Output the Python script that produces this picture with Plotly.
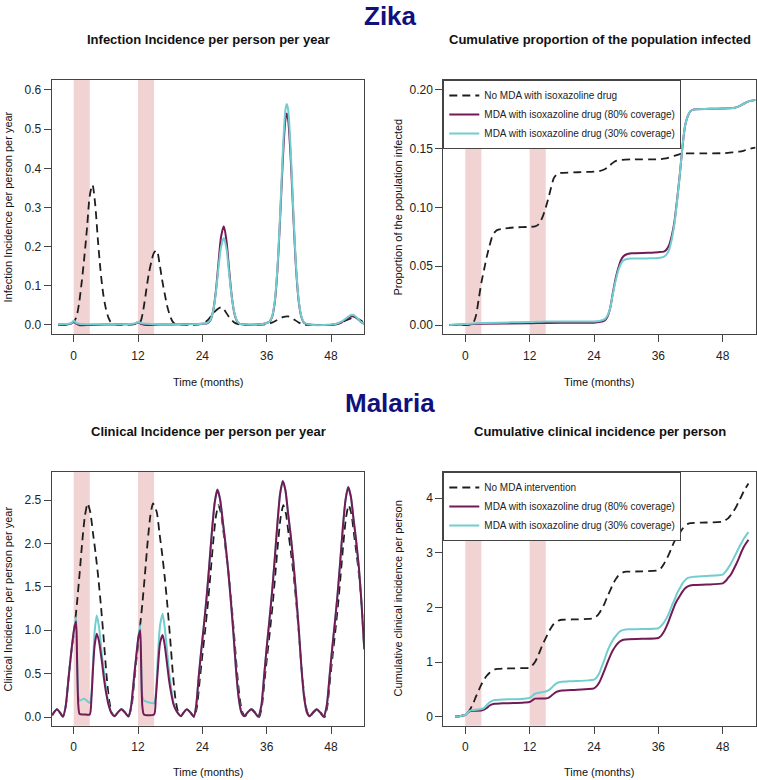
import plotly.graph_objects as go

FONT = "Liberation Sans, Arial, sans-serif"

# ---------------- data ----------------
months_ticks = [0, 12, 24, 36, 48]
mda_periods = [(0, 3), (12, 15)]

series_names_zika = ["No MDA with isoxazoline drug",
                     "MDA with isoxazoline drug (80% coverage)",
                     "MDA with isoxazoline drug (30% coverage)"]
series_names_mal = ["No MDA intervention",
                    "MDA with isoxazoline drug (80% coverage)",
                    "MDA with isoxazoline drug (30% coverage)"]

# Zika: infection incidence per person per year
zika_inc_t_nomda = [-2.9, -1, 0, 0.5, 1, 1.5, 2, 2.5, 3, 3.5, 4, 4.5, 5, 5.5, 6, 6.5, 7, 8, 10, 11.5,
                    12, 12.5, 13, 13.5, 14, 14.5, 15, 15.5, 16, 16.5, 17, 17.5, 18, 18.5, 19, 20, 22, 24, 25, 26,
                    27, 27.5, 28, 29, 30, 31, 32, 34, 36, 37, 38, 39, 40, 41, 42, 43, 44, 46, 48, 49,
                    50, 51, 52, 52.5, 53, 54.2]
zika_inc_nomda = [0.0, 0.001, 0.008, 0.02, 0.055, 0.11, 0.175, 0.25, 0.33, 0.358, 0.31, 0.22, 0.14, 0.08, 0.042, 0.018, 0.006, 0.001, 0.001, 0.002,
                  0.004, 0.01, 0.04, 0.085, 0.13, 0.162, 0.185, 0.19, 0.158, 0.115, 0.078, 0.045, 0.022, 0.008, 0.002, 0.001, 0.0, 0.003, 0.012, 0.03,
                  0.042, 0.045, 0.04, 0.02, 0.006, 0.001, 0.0, 0.0, 0.002, 0.006, 0.013, 0.02, 0.022, 0.015, 0.006, 0.001, 0.0, 0.0, 0.001, 0.003,
                  0.007, 0.013, 0.018, 0.019, 0.016, 0.006]
zika_inc_t_mda = [-2.9, -1, -0.4, 0, 0.4, 1, 3, 6, 9, 11, 11.6, 12, 12.5, 13.5, 16, 20, 24, 25, 25.5, 26,
                  26.5, 27, 27.5, 28, 28.5, 29, 29.5, 30, 30.5, 31, 32, 34, 35.5, 36.5, 37, 37.5, 38, 38.5, 39, 39.5,
                  39.75, 40, 40.5, 41, 41.5, 42, 42.5, 43, 44, 48, 49, 50, 51, 51.9, 52.5, 53, 53.5, 54.2]
zika_inc_80 = [0.001, 0.002, 0.004, 0.009, 0.004, 0.0, 0.0, 0.001, 0.002, 0.002, 0.004, 0.007, 0.003, 0.0, 0.001, 0.002, 0.003, 0.005, 0.012, 0.035,
               0.084, 0.157, 0.226, 0.252, 0.215, 0.14, 0.072, 0.028, 0.009, 0.003, 0.001, 0.001, 0.003, 0.008, 0.02, 0.057, 0.139, 0.27, 0.42, 0.525,
               0.54, 0.525, 0.42, 0.27, 0.139, 0.057, 0.019, 0.005, 0.001, 0.0, 0.002, 0.007, 0.016, 0.022, 0.02, 0.015, 0.009, 0.003]
zika_inc_30 = [0.001, 0.003, 0.005, 0.011, 0.006, 0.003, 0.002, 0.002, 0.002, 0.003, 0.005, 0.008, 0.005, 0.003, 0.002, 0.002, 0.003, 0.006, 0.013, 0.035,
               0.08, 0.145, 0.2, 0.222, 0.195, 0.13, 0.07, 0.03, 0.01, 0.003, 0.001, 0.001, 0.003, 0.008, 0.021, 0.06, 0.145, 0.28, 0.44, 0.55,
               0.564, 0.55, 0.44, 0.28, 0.145, 0.06, 0.02, 0.006, 0.001, 0.001, 0.003, 0.009, 0.019, 0.026, 0.023, 0.016, 0.009, 0.003]

# Zika: cumulative proportion of the population infected
zika_cum_t_nomda = [-3, 0, 1, 1.5, 2, 2.5, 3, 3.5, 4, 4.5, 5, 5.5, 6, 7, 9, 12, 13, 13.5, 14, 14.5,
                    15, 15.5, 16, 16.5, 17, 17.5, 18, 21, 24, 25, 26, 26.5, 27, 27.5, 28, 29, 31, 36, 37, 38,
                    39, 40, 41, 44, 48, 49, 50, 51, 52, 53, 54.1]
zika_cum_nomda = [0.0, 0.0, 0.0005, 0.002, 0.008, 0.022, 0.036, 0.047, 0.058, 0.067, 0.075, 0.079, 0.081, 0.082, 0.083, 0.0835, 0.084, 0.085, 0.088, 0.093,
                  0.1, 0.108, 0.117, 0.125, 0.128, 0.129, 0.1295, 0.13, 0.1305, 0.131, 0.1325, 0.134, 0.136, 0.138, 0.1395, 0.1405, 0.141, 0.141, 0.1415, 0.1425,
                  0.144, 0.1455, 0.146, 0.146, 0.1462, 0.1465, 0.147, 0.1475, 0.1485, 0.15, 0.151]
zika_cum_t_mda = [-3, 0, 3, 12, 15, 24, 25, 26, 26.5, 27, 27.5, 28, 28.5, 29, 29.5, 30, 31, 34, 36, 37,
                  37.5, 38, 38.5, 39, 39.5, 40, 40.5, 41, 41.5, 42, 42.5, 43, 46, 48, 49, 50, 51, 52, 53, 54.1]
zika_cum_80 = [0.0, 0.0005, 0.001, 0.0015, 0.0018, 0.002, 0.0025, 0.004, 0.007, 0.014, 0.027, 0.039, 0.048, 0.055, 0.0585, 0.06, 0.061, 0.0615, 0.062, 0.0625,
               0.064, 0.068, 0.076, 0.088, 0.107, 0.128, 0.152, 0.17, 0.178, 0.182, 0.1833, 0.1836, 0.184, 0.1842, 0.1844, 0.1846, 0.186, 0.1885, 0.1905, 0.1915]
zika_cum_30 = [0.0, 0.0008, 0.0018, 0.0025, 0.003, 0.003, 0.0035, 0.005, 0.008, 0.014, 0.026, 0.037, 0.046, 0.052, 0.055, 0.056, 0.0565, 0.0567, 0.057, 0.058,
               0.06, 0.064, 0.073, 0.086, 0.106, 0.128, 0.152, 0.17, 0.178, 0.182, 0.1833, 0.1836, 0.184, 0.1842, 0.1844, 0.1846, 0.186, 0.1885, 0.1905, 0.1915]

# Malaria: clinical incidence per person per year
mal_inc_t_nomda = [-4.0, -3.6, -3.1, -2.6, -2.0, -1.5, -1.0, -0.5, 0.1, 0.6, 1.1, 1.6, 2.1, 2.6, 3.1, 3.6, 4.1, 4.6, 5.1, 5.6,
                   6.1, 6.6, 7.1, 7.6, 8.2, 8.9, 9.6, 10.2, 10.8, 11.3, 11.8, 12.3, 12.8, 13.3, 13.8, 14.3, 14.8, 15.5, 16.0, 16.5,
                   17.0, 17.5, 18.0, 18.5, 19.0, 19.5, 20.0, 20.5, 21.1, 21.8, 22.5, 23.0, 23.5, 24.0, 24.5, 25.0, 25.5, 26.0, 26.5, 27.0,
                   27.5, 28.0, 28.5, 29.0, 29.5, 30.0, 30.5, 31.0, 31.5, 32.0, 32.5, 33.2, 33.9, 34.6, 35.1, 35.6, 36.1, 36.6, 37.1, 37.6,
                   38.1, 38.6, 39.1, 39.6, 40.1, 40.6, 41.1, 41.6, 42.1, 42.6, 43.1, 43.6, 44.1, 44.7, 45.4, 46.1, 46.8, 47.3, 47.8, 48.3,
                   48.8, 49.3, 49.8, 50.3, 50.8, 51.3, 51.8, 52.3, 52.8, 53.3, 53.8, 54.2]
mal_inc_nomda = [0.02, 0.06, 0.09, 0.055, 0.005, 0.12, 0.42, 0.72, 1.0, 1.3, 1.65, 2.02, 2.32, 2.46, 2.36, 2.12, 1.88, 1.6, 1.27, 0.9,
                 0.5, 0.2, 0.05, 0.01, 0.05, 0.09, 0.05, 0.005, 0.12, 0.42, 0.72, 1.0, 1.3, 1.65, 2.02, 2.32, 2.46, 2.36, 2.12, 1.88,
                 1.6, 1.27, 0.9, 0.5, 0.2, 0.05, 0.01, 0.05, 0.09, 0.05, 0.0, 0.12, 0.42, 0.71, 0.99, 1.29, 1.64, 2.0, 2.3, 2.44,
                 2.34, 2.1, 1.86, 1.59, 1.26, 0.89, 0.5, 0.2, 0.05, 0.01, 0.05, 0.09, 0.05, 0.0, 0.12, 0.42, 0.71, 0.99, 1.29, 1.64,
                 2.0, 2.3, 2.44, 2.34, 2.1, 1.86, 1.59, 1.26, 0.89, 0.5, 0.2, 0.05, 0.01, 0.05, 0.09, 0.05, 0.0, 0.12, 0.42, 0.71,
                 0.99, 1.29, 1.64, 2.0, 2.3, 2.44, 2.34, 2.1, 1.86, 1.59, 1.2, 0.8]
mal_inc_t_mda = [-4.0, -3.6, -3.1, -2.6, -2.0, -1.5, -1.0, -0.5, 0.0, 0.25, 0.45, 0.65, 0.85, 1.1, 2.0, 3.0, 3.3, 3.6, 3.9, 4.3,
                 4.7, 5.0, 5.3, 5.7, 6.1, 6.6, 7.1, 7.6, 8.2, 8.9, 9.6, 10.2, 10.7, 11.2, 11.7, 12.1, 12.4, 12.6, 12.8, 13.1,
                 15.0, 15.3, 15.7, 16.1, 16.6, 17.0, 17.4, 17.8, 18.2, 18.6, 19.0, 19.5, 20.0, 20.5, 21.1, 21.8, 22.4, 22.85, 23.3, 23.8,
                 24.3, 24.8, 25.3, 25.8, 26.3, 26.8, 27.3, 27.8, 28.3, 28.8, 29.3, 29.8, 30.3, 30.8, 31.3, 31.8, 32.4, 33.1, 33.8, 34.4,
                 35.0, 35.5, 36.0, 36.5, 37.0, 37.5, 38.0, 38.5, 39.0, 39.5, 40.0, 40.5, 41.0, 41.5, 42.0, 42.5, 43.0, 43.5, 44.0, 44.6,
                 45.3, 46.0, 46.6, 47.2, 47.7, 48.2, 48.7, 49.2, 49.7, 50.2, 50.7, 51.2, 51.7, 52.2, 52.7, 53.2, 53.7, 54.2]
mal_inc_80 = [0.02, 0.06, 0.09, 0.055, 0.005, 0.12, 0.42, 0.72, 0.98, 1.06, 1.10, 0.6, 0.15, 0.035, 0.03, 0.03, 0.2, 0.55, 0.82, 0.96,
              0.88, 0.76, 0.62, 0.42, 0.26, 0.12, 0.04, 0.01, 0.05, 0.09, 0.05, 0.005, 0.12, 0.42, 0.72, 0.93, 1.0, 0.55, 0.13, 0.03,
              0.03, 0.2, 0.55, 0.85, 0.945, 0.82, 0.62, 0.42, 0.27, 0.15, 0.09, 0.04, 0.01, 0.05, 0.09, 0.05, 0.004, 0.13, 0.45, 0.77,
              1.065, 1.385, 1.757, 2.15, 2.47, 2.62, 2.51, 2.26, 2.0, 1.70, 1.35, 0.96, 0.53, 0.21, 0.05, 0.01, 0.05, 0.09, 0.05, 0.004,
              0.13, 0.46, 0.80, 1.11, 1.44, 1.82, 2.23, 2.57, 2.72, 2.61, 2.34, 2.08, 1.77, 1.40, 1.0, 0.55, 0.22, 0.055, 0.01, 0.05,
              0.09, 0.05, 0.004, 0.13, 0.45, 0.78, 1.08, 1.40, 1.78, 2.18, 2.50, 2.65, 2.54, 2.28, 2.02, 1.72, 1.30, 0.78]
mal_inc_30 = [0.02, 0.06, 0.09, 0.055, 0.005, 0.12, 0.42, 0.72, 0.98, 1.08, 1.15, 0.65, 0.25, 0.19, 0.21, 0.16, 0.25, 0.6, 0.98, 1.17,
              1.05, 0.88, 0.7, 0.5, 0.3, 0.13, 0.04, 0.01, 0.05, 0.09, 0.05, 0.005, 0.12, 0.42, 0.72, 0.93, 1.06, 0.6, 0.24, 0.19,
              0.16, 0.25, 0.7, 1.05, 1.19, 1.02, 0.78, 0.52, 0.33, 0.17, 0.09, 0.04, 0.01, 0.05, 0.09, 0.05, 0.004, 0.13, 0.45, 0.77,
              1.065, 1.385, 1.757, 2.15, 2.47, 2.62, 2.51, 2.26, 2.0, 1.70, 1.35, 0.96, 0.53, 0.21, 0.05, 0.01, 0.05, 0.09, 0.05, 0.004,
              0.13, 0.46, 0.80, 1.11, 1.44, 1.82, 2.23, 2.57, 2.72, 2.61, 2.34, 2.08, 1.77, 1.40, 1.0, 0.55, 0.22, 0.055, 0.01, 0.05,
              0.09, 0.05, 0.004, 0.13, 0.45, 0.78, 1.08, 1.40, 1.78, 2.18, 2.50, 2.65, 2.54, 2.28, 2.02, 1.72, 1.30, 0.78]

# Malaria: cumulative clinical incidence per person
mal_cum_t_nomda = [-1.9, -1, 0, 0.5, 1, 1.5, 2, 2.5, 3, 3.5, 4, 4.5, 5, 5.5, 6, 7, 9, 11, 12, 12.5,
                   13, 13.5, 14, 14.5, 15, 15.5, 16, 16.5, 17, 17.5, 18, 20, 23, 24, 24.5, 25, 25.5, 26, 26.5, 27,
                   27.5, 28, 28.5, 29, 29.5, 30, 33, 36, 36.5, 37, 37.5, 38, 38.5, 39, 39.5, 40, 40.5, 41, 41.5, 42,
                   45, 48, 48.5, 49, 49.5, 50, 50.5, 51, 51.5, 52, 52.8]
mal_cum_nomda = [0.0, 0.01, 0.04, 0.08, 0.15, 0.25, 0.37, 0.48, 0.59, 0.68, 0.75, 0.8, 0.84, 0.865, 0.875, 0.88, 0.885, 0.89, 0.9, 0.94,
                 1.0, 1.1, 1.22, 1.34, 1.44, 1.54, 1.63, 1.7, 1.74, 1.765, 1.775, 1.78, 1.79, 1.8, 1.84, 1.9, 1.98, 2.08, 2.2, 2.31,
                 2.42, 2.51, 2.58, 2.62, 2.645, 2.655, 2.66, 2.68, 2.72, 2.79, 2.88, 2.98, 3.1, 3.21, 3.3, 3.37, 3.44, 3.5, 3.53, 3.545,
                 3.555, 3.57, 3.6, 3.63, 3.69, 3.76, 3.84, 3.94, 4.04, 4.14, 4.27]
mal_cum_t_mda = [-1.9, -1, 0, 0.5, 0.9, 2, 3, 3.5, 4, 4.5, 5, 5.5, 7, 9, 11, 12, 12.5, 13, 15, 15.5,
                 16, 16.5, 17, 17.5, 18, 20, 23, 24, 24.5, 25, 25.5, 26, 26.5, 27, 27.5, 28, 28.5, 29, 29.5, 30.5,
                 33, 36, 36.5, 37, 37.5, 38, 38.5, 39, 39.5, 40, 40.5, 41, 41.5, 42.5, 45, 48, 48.5, 49, 49.5, 50,
                 50.5, 51, 51.5, 52, 52.8]
mal_cum_80 = [0.0, 0.01, 0.03, 0.08, 0.105, 0.11, 0.115, 0.13, 0.16, 0.2, 0.225, 0.235, 0.245, 0.25, 0.26, 0.27, 0.3, 0.33, 0.335, 0.345,
              0.38, 0.42, 0.455, 0.47, 0.478, 0.49, 0.505, 0.52, 0.56, 0.63, 0.74, 0.86, 0.99, 1.11, 1.21, 1.29, 1.35, 1.39, 1.41, 1.42,
              1.425, 1.44, 1.48, 1.55, 1.65, 1.77, 1.9, 2.03, 2.13, 2.21, 2.29, 2.35, 2.385, 2.41, 2.42, 2.44, 2.48, 2.54, 2.6, 2.69,
              2.79, 2.9, 3.02, 3.12, 3.24]
mal_cum_30 = [0.0, 0.01, 0.03, 0.08, 0.11, 0.125, 0.14, 0.16, 0.21, 0.26, 0.29, 0.305, 0.315, 0.32, 0.33, 0.345, 0.38, 0.42, 0.46, 0.48,
              0.52, 0.57, 0.61, 0.63, 0.64, 0.65, 0.665, 0.68, 0.72, 0.8, 0.93, 1.06, 1.2, 1.31, 1.4, 1.47, 1.53, 1.57, 1.59, 1.6,
              1.605, 1.62, 1.66, 1.72, 1.8, 1.9, 2.03, 2.14, 2.26, 2.35, 2.44, 2.5, 2.54, 2.56, 2.575, 2.6, 2.65, 2.72, 2.8, 2.89,
              2.99, 3.09, 3.18, 3.27, 3.38]

# ---------------- styling ----------------
W, H = 757, 780
C_NOMDA = "#1e1e1e"
C_80 = "#731b55"
C_30 = "#72cdd0"
C_BAND = "#f1d3d3"
C_AXIS = "#444444"
C_HEAD = "#10107f"


def px_x(p):
    return p / W


def px_y(p):
    return 1 - p / H


X_LEFT = [px_x(51.7), px_x(364.0)]
X_RIGHT = [px_x(443.3), px_x(755.7)]
Y_TOP = [px_y(334.3), px_y(80.0)]
Y_BOT = [px_y(725.7), px_y(472.0)]

fig = go.Figure()


def add_line(x, y, name, color, axis, legend=None, dash=None, smoothing=0.8, width=2):
    line = dict(color=color, width=width, shape="spline", smoothing=smoothing)
    if dash:
        line["dash"] = dash
    fig.add_trace(go.Scatter(
        x=x, y=y, name=name, mode="lines", line=line,
        xaxis="x" + ("" if axis == 1 else str(axis)),
        yaxis="y" + ("" if axis == 1 else str(axis)),
        showlegend=legend is not None,
        legend=legend if legend else "legend",
        hoverinfo="skip",
    ))


DASH = "8px,5px"
# panel 1
add_line(zika_inc_t_nomda, zika_inc_nomda, series_names_zika[0], C_NOMDA, 1, dash=DASH, width=1.8)
add_line(zika_inc_t_mda, zika_inc_80, series_names_zika[1], C_80, 1)
add_line(zika_inc_t_mda, zika_inc_30, series_names_zika[2], C_30, 1)
# panel 2
add_line(zika_cum_t_nomda, zika_cum_nomda, series_names_zika[0], C_NOMDA, 2, legend="legend", dash=DASH, width=1.8, smoothing=0.6)
add_line(zika_cum_t_mda, zika_cum_80, series_names_zika[1], C_80, 2, legend="legend", smoothing=0.6)
add_line(zika_cum_t_mda, zika_cum_30, series_names_zika[2], C_30, 2, legend="legend", smoothing=0.6)
# panel 3
add_line(mal_inc_t_nomda, mal_inc_nomda, series_names_mal[0], C_NOMDA, 3, dash=DASH, width=1.8, smoothing=0.6)
add_line(mal_inc_t_mda, mal_inc_30, series_names_mal[2], C_30, 3, smoothing=0.6)
add_line(mal_inc_t_mda, mal_inc_80, series_names_mal[1], C_80, 3, smoothing=0.6)
# panel 4
add_line(mal_cum_t_nomda, mal_cum_nomda, series_names_mal[0], C_NOMDA, 4, legend="legend2", dash=DASH, width=1.8, smoothing=0.6)
add_line(mal_cum_t_mda, mal_cum_80, series_names_mal[1], C_80, 4, legend="legend2", smoothing=0.6)
add_line(mal_cum_t_mda, mal_cum_30, series_names_mal[2], C_30, 4, legend="legend2", smoothing=0.6)

axis_common = dict(showline=True, linecolor=C_AXIS, linewidth=1, mirror=True,
                   ticks="outside", ticklen=7, tickwidth=1, tickcolor=C_AXIS,
                   showgrid=False, zeroline=False, fixedrange=True,
                   tickfont=dict(family=FONT, size=12, color="#222"))
x_range = [-4.1, 54.15]


def xaxis(domain, anchor):
    return dict(axis_common, domain=domain, anchor=anchor, range=x_range,
                tickmode="array", tickvals=months_ticks, ticklabelstandoff=3)


def yaxis(domain, anchor, rng, tickvals, fmt):
    return dict(axis_common, domain=domain, anchor=anchor, range=rng,
                tickmode="array", tickvals=tickvals, tickformat=fmt)


fig.update_layout(
    width=W, height=H,
    margin=dict(l=0, r=0, t=0, b=0),
    paper_bgcolor="white", plot_bgcolor="white",
    font=dict(family=FONT, color="#111"),
    xaxis=xaxis(X_LEFT, "y"),
    yaxis=yaxis(Y_TOP, "x", [-0.0238, 0.6255], [0, 0.1, 0.2, 0.3, 0.4, 0.5, 0.6], ".1f"),
    xaxis2=xaxis(X_RIGHT, "y2"),
    yaxis2=yaxis(Y_TOP, "x2", [-0.0079, 0.2085], [0, 0.05, 0.10, 0.15, 0.20], ".2f"),
    xaxis3=xaxis(X_LEFT, "y3"),
    yaxis3=yaxis(Y_BOT, "x3", [-0.100, 2.823], [0, 0.5, 1.0, 1.5, 2.0, 2.5], ".1f"),
    xaxis4=xaxis(X_RIGHT, "y4"),
    yaxis4=yaxis(Y_BOT, "x4", [-0.165, 4.48], [0, 1, 2, 3, 4], "d"),
    legend=dict(x=X_RIGHT[0], y=Y_TOP[1], xanchor="left", yanchor="top",
                bgcolor="white", bordercolor=C_AXIS, borderwidth=1,
                font=dict(family=FONT, size=10, color="#222"), tracegroupgap=0),
    legend2=dict(x=X_RIGHT[0], y=Y_BOT[1], xanchor="left", yanchor="top",
                 bgcolor="white", bordercolor=C_AXIS, borderwidth=1,
                 font=dict(family=FONT, size=10, color="#222"), tracegroupgap=0),
    showlegend=True,
)

# MDA shading bands
shapes = []
for ax in ["", "2", "3", "4"]:
    for (a, b) in mda_periods:
        shapes.append(dict(type="rect", xref="x" + ax, yref="y" + ax + " domain",
                           x0=a, x1=b, y0=0, y1=1, fillcolor=C_BAND,
                           line=dict(width=0), layer="below"))
fig.update_layout(shapes=shapes)

ann = []


def text(x, y, s, size, bold=False, color="#111", angle=0):
    ann.append(dict(x=x, y=y, xref="paper", yref="paper", text=("<b>%s</b>" % s) if bold else s,
                    showarrow=False, xanchor="center", yanchor="middle", textangle=angle,
                    font=dict(family=FONT, size=size, color=color)))


text(px_x(390), px_y(15.5), "Zika", 26, bold=True, color=C_HEAD)
text(px_x(390), px_y(403), "Malaria", 26, bold=True, color=C_HEAD)

text(px_x(208), px_y(39), "Infection Incidence per person per year", 13, bold=True)
text(px_x(599.5), px_y(39), "Cumulative proportion of the population infected", 13, bold=True)
text(px_x(208), px_y(431), "Clinical Incidence per person per year", 13, bold=True)
text(px_x(599.5), px_y(431), "Cumulative clinical incidence per person", 13, bold=True)

for xc in [208, 599.5]:
    text(px_x(xc), px_y(382), "Time (months)", 11)
    text(px_x(xc), px_y(772), "Time (months)", 11)

text(px_x(7.5), px_y(207), "Infection Incidence per person per year", 11, angle=-90)
text(px_x(397.5), px_y(207), "Proportion of the population infected", 11, angle=-90)
text(px_x(7.5), px_y(599), "Clinical Incidence per person per year", 11, angle=-90)
text(px_x(397.5), px_y(599), "Cumulative clinical incidence per person", 11, angle=-90)

fig.update_layout(annotations=ann)

fig.write_html("out.html", config={"displayModeBar": False, "staticPlot": True},
               post_script="document.body.style.margin='0px';document.body.style.overflow='hidden';")
